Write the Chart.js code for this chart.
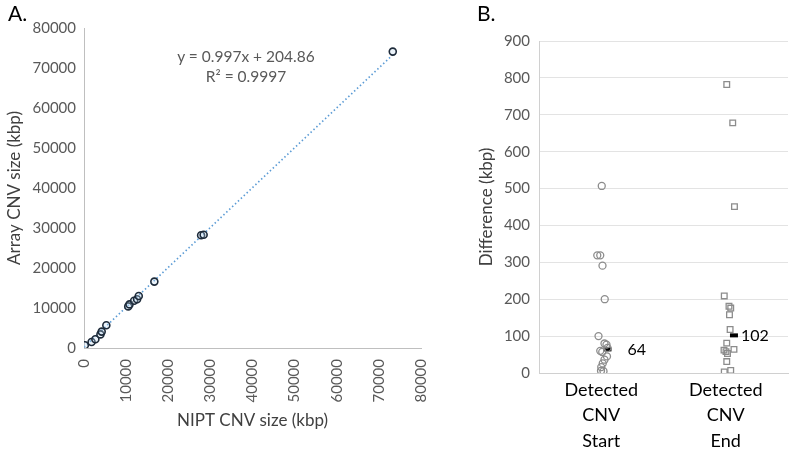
<!DOCTYPE html>
<html>
<head>
<meta charset="utf-8">
<script src="https://cdn.jsdelivr.net/npm/chart.js@4"></script>
<style>
    body { margin: 0; background: #fff; font-family: Lato, sans-serif; }
    #wrap { position: relative; width: 796px; height: 449px; overflow: hidden; }
    .panel { position: absolute; top: 0; height: 449px; }
    .tag { position: absolute; font-size: 21px; color: #000; }
    #eq { position: absolute; left: 166px; top: 46px; width: 160px; text-align: center;
          font-size: 15.5px; line-height: 20px; color: #595959; }
</style>
</head>
<body>
<div id="wrap">
    <div class="panel" style="left:0;width:450px"><canvas id="sizeChart"></canvas></div>
    <div class="panel" style="left:450px;width:346px"><canvas id="diffChart"></canvas></div>
    <div class="tag" style="left:8px;top:0px">A.</div>
    <div class="tag" style="left:477px;top:0px">B.</div>
    <div id="eq">y = 0.997x + 204.86<br>R² = 0.9997</div>
</div>
<script>
// Panel A: NIPT vs array CNV size (kbp)
const niptSize  = [200, 1800, 2700, 3900, 4200, 5300, 10500, 10800, 11900, 12600, 13000, 16700, 27800, 28400, 73300];
const arraySize = [700, 1500, 2200, 3400, 4100, 5700, 10400, 10900, 11800, 12200, 13000, 16600, 28200, 28300, 74100];
const fitSlope = 0.997;
const fitIntercept = 204.86;
const fitRange = [0, 73300];

// Panel B: breakpoint differences (kbp)
const startDiff   = [507, 319, 319, 291, 200, 100, 80, 77, 68, 60, 57, 45, 36, 26, 16, 6, 5];
const startJitter = [0.004, -0.032, -0.008, 0.01, 0.028, -0.022, 0.026, 0.042, 0.05, -0.008, 0.008, 0.046, 0.026, 0.012, 0, -0.002, 0.018];
const endDiff     = [782, 678, 451, 209, 181, 176, 158, 118, 81, 64, 62, 58, 53, 31, 3, 7];
const endJitter   = [0.008, 0.056, 0.07, -0.012, 0.026, 0.04, 0.03, 0.035, 0.008, 0.066, -0.014, 0.002, 0.014, 0.008, -0.012, 0.04];
const groupLabels = [['Detected', 'CNV', 'Start'], ['Detected', 'CNV', 'End']];
const medianDiff  = [64, 102];
const medianShift = [0.05, 0.066];

const FONT = "Lato, 'Open Sans', sans-serif";
Chart.defaults.font.family = FONT;
Chart.defaults.color = '#595959';
Chart.defaults.animation = false;

const plainNum = v => String(v); // Excel-style, no thousands separator

// -------------------------------------------------------------
// Chart A: scatter with trend line
// -------------------------------------------------------------
new Chart(document.getElementById('sizeChart'), {
    type: 'scatter',
    data: {
        datasets: [{
            data: niptSize.map((x, i) => ({ x: x, y: arraySize[i] })),
            pointStyle: 'circle',
            pointRadius: 3.5,
            pointBorderWidth: 1.6,
            pointBorderColor: '#1e2b3a',
            pointBackgroundColor: 'rgba(189,215,238,0.3)',
            order: 1
        }, {
            type: 'line',
            data: fitRange.map(x => ({ x: x, y: fitSlope * x + fitIntercept })),
            borderColor: '#5b9bd5',
            borderWidth: 1.6,
            borderDash: [1.5, 2.5],
            pointRadius: 0,
            order: 2
        }]
    },
    options: {
        responsive: true,
        maintainAspectRatio: false,
        layout: { padding: { top: 28, right: 18, left: 0, bottom: 0 } },
        plugins: { legend: { display: false }, tooltip: { enabled: false } },
        scales: {
            x: {
                type: 'linear', min: 0, max: 80000,
                afterFit: s => { s.height = 101; },
                grid: { display: false, drawTicks: false },
                border: { display: true, color: '#bfbfbf', width: 1 },
                ticks: { stepSize: 10000, minRotation: 90, maxRotation: 90, autoSkip: false,
                         padding: 11, font: { size: 15 }, callback: plainNum },
                title: { display: true, text: 'NIPT CNV size (kbp)', color: '#404040',
                         font: { size: 17 }, padding: { top: 4, bottom: 18 } }
            },
            y: {
                type: 'linear', min: 0, max: 80000,
                afterFit: s => { s.width = 84; },
                grid: { display: false, drawTicks: false },
                border: { display: true, color: '#bfbfbf', width: 1 },
                ticks: { stepSize: 10000, padding: 8, font: { size: 15 }, callback: plainNum },
                title: { display: true, text: 'Array CNV size (kbp)', color: '#404040',
                         font: { size: 17 }, padding: { top: 4, bottom: 4 } }
            }
        }
    }
});

// -------------------------------------------------------------
// Chart B: jittered dot plot with medians
// -------------------------------------------------------------
const medianLabels = {
    id: 'medianLabels',
    afterDatasetsDraw(chart) {
        const meta = chart.getDatasetMeta(2);
        const ctx = chart.ctx;
        const gap = [20, 7];
        ctx.save();
        ctx.font = '16px ' + FONT;
        ctx.fillStyle = '#000';
        ctx.textBaseline = 'middle';
        meta.data.forEach((pt, i) => {
            ctx.fillText(String(medianDiff[i]), pt.x + gap[i], pt.y);
        });
        ctx.restore();
    }
};

new Chart(document.getElementById('diffChart'), {
    type: 'scatter',
    data: {
        datasets: [{
            data: startDiff.map((v, i) => ({ x: 1 + startJitter[i], y: v })),
            pointStyle: 'circle',
            pointRadius: 3.5,
            pointBorderWidth: 1.3,
            pointBorderColor: '#8c8c8c',
            pointBackgroundColor: 'rgba(255,255,255,0)'
        }, {
            data: endDiff.map((v, i) => ({ x: 2 + endJitter[i], y: v })),
            pointStyle: 'rect',
            pointRadius: 4,
            pointBorderWidth: 1.3,
            pointBorderColor: '#8c8c8c',
            pointBackgroundColor: 'rgba(255,255,255,0)'
        }, {
            data: medianDiff.map((v, i) => ({ x: i + 1 + medianShift[i], y: v })),
            pointStyle: 'line',
            pointRadius: 4,
            pointBorderWidth: 4,
            pointBorderColor: '#000'
        }]
    },
    options: {
        responsive: true,
        maintainAspectRatio: false,
        layout: { padding: { top: 41, right: 6, left: 0, bottom: 0 } },
        plugins: { legend: { display: false }, tooltip: { enabled: false } },
        scales: {
            x: {
                type: 'linear', min: 0.5, max: 2.5,
                afterFit: s => { s.height = 76; },
                afterBuildTicks: s => { s.ticks = [{ value: 1 }, { value: 2 }]; },
                grid: { display: false, drawTicks: false },
                border: { display: true, color: '#d0d0d0', width: 1 },
                ticks: { autoSkip: false, maxRotation: 0, padding: 4, color: '#000',
                         font: { size: 18, lineHeight: 1.42 },
                         callback: v => groupLabels[v - 1] || '' }
            },
            y: {
                min: 0, max: 900,
                afterFit: s => { s.width = 89; },
                grid: { color: '#e3e3e3', drawTicks: false },
                border: { display: true, color: '#d0d0d0', width: 1 },
                ticks: { stepSize: 100, padding: 9, font: { size: 15 }, callback: plainNum },
                title: { display: true, text: 'Difference (kbp)', color: '#404040',
                         font: { size: 17 }, padding: { top: 26, bottom: 4 } }
            }
        }
    },
    plugins: [medianLabels]
});
</script>
</body>
</html>
